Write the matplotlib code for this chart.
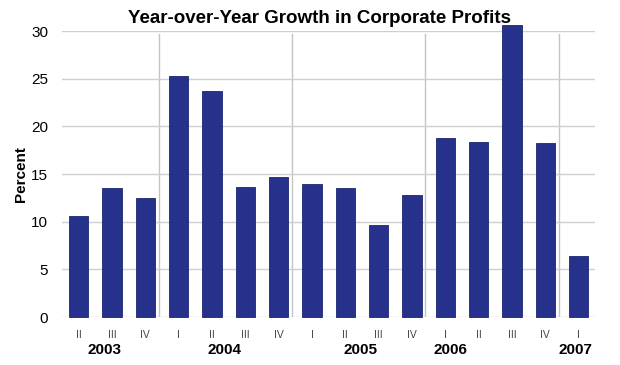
import matplotlib
matplotlib.use("Agg")
import matplotlib.pyplot as plt
import numpy as np

plt.rcParams["font.family"] = ["Liberation Sans", "DejaVu Sans"]

quarters = ["II", "III", "IV", "I", "II", "III", "IV", "I", "II", "III", "IV",
            "I", "II", "III", "IV", "I"]
growth = [10.6, 13.5, 12.5, 25.3, 23.7, 13.6, 14.7, 14.0, 13.5, 9.7, 12.8,
          18.8, 18.4, 30.6, 18.3, 6.4]
years = ["2003", "2004", "2005", "2006", "2007"]
year_pos = [0.78, 4.38, 8.45, 11.16, 14.9]
year_breaks = [2.4, 6.4, 10.4, 14.4]

fig = plt.figure(figsize=(6.2, 3.65), dpi=100)
ax = fig.add_axes([0.1, 0.1315, 0.86, 0.7835])

x = np.arange(len(growth))
ax.bar(x, growth, width=0.58, color="#25318a", edgecolor="#1c2570",
       linewidth=0.6, zorder=3, clip_on=False)

ax.set_xlim(-0.5, len(growth) - 0.5)
ax.set_ylim(0, 30)
ax.set_yticks(range(0, 31, 5))
ax.yaxis.grid(True, color="#cfcfcf", linewidth=1.0, zorder=0)
for b in year_breaks:
    ax.axvline(b, ymin=0, ymax=0.99, color="#c4c4c4", linewidth=1.0, zorder=1)

for s in ax.spines.values():
    s.set_visible(False)
ax.tick_params(length=0)
ax.tick_params(axis="y", labelsize=11, pad=10)
ax.set_xticks(x)
ax.set_xticklabels(quarters, fontsize=7.5, color="#444444")
ax.tick_params(axis="x", pad=9)

for yr, p in zip(years, year_pos):
    ax.text(p, -0.09, yr, transform=ax.get_xaxis_transform(), ha="center",
            va="top", fontsize=11, fontweight="bold")

ax.set_ylabel("Percent", fontsize=11, fontweight="bold", labelpad=2)
fig.text(0.516, 0.95, "Year-over-Year Growth in Corporate Profits",
         ha="center", va="center", fontsize=13.5, fontweight="bold")

fig.savefig("out.png", dpi=100, facecolor="white")
